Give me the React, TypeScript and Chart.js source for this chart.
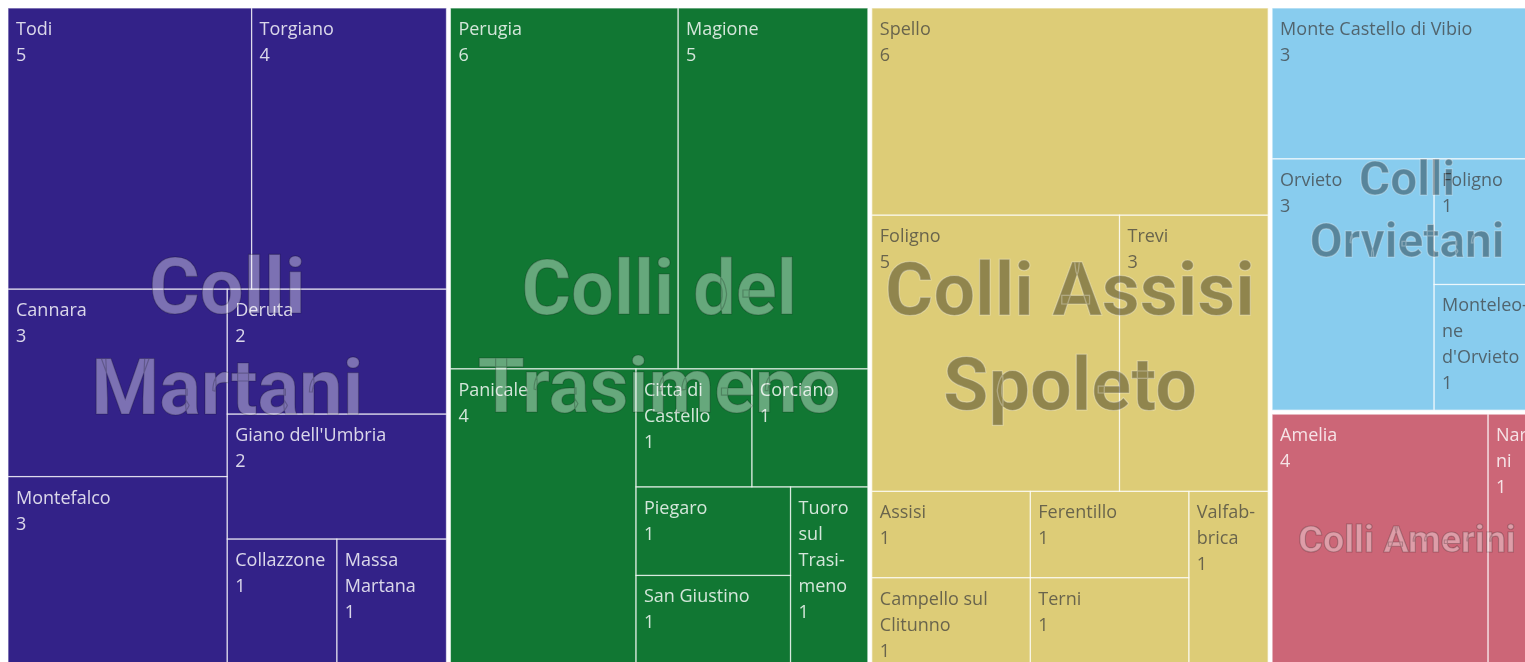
import React, { useEffect, useRef } from 'react';
import { Chart, registerables } from 'chart.js';

Chart.register(...registerables);

// ---- data ----
const groupNames = ['Colli Martani', 'Colli del Trasimeno', 'Colli Assisi Spoleto', 'Colli Orvietani', 'Colli Amerini'];

const martaniTowns = ['Todi', 'Torgiano', 'Cannara', 'Montefalco', 'Deruta', "Giano dell'Umbria", 'Collazzone', 'Massa Martana'];
const martaniValues = [5, 4, 3, 3, 2, 2, 1, 1];

const trasimenoTowns = ['Perugia', 'Magione', 'Panicale', 'Citta di Castello', 'Corciano', 'Piegaro', 'San Giustino', 'Tuoro sul Trasimeno'];
const trasimenoValues = [6, 5, 4, 1, 1, 1, 1, 1];

const assisiTowns = ['Spello', 'Foligno', 'Trevi', 'Assisi', 'Campello sul Clitunno', 'Ferentillo', 'Terni', 'Valfabbrica'];
const assisiValues = [6, 5, 3, 1, 1, 1, 1, 1];

const orvietaniTowns = ['Monte Castello di Vibio', 'Orvieto', 'Foligno', "Monteleone d'Orvieto"];
const orvietaniValues = [3, 3, 1, 1];

const ameriniTowns = ['Amelia', 'Narni'];
const ameriniValues = [4, 1];

const groupTowns = [martaniTowns, trasimenoTowns, assisiTowns, orvietaniTowns, ameriniTowns];
const groupValues = [martaniValues, trasimenoValues, assisiValues, orvietaniValues, ameriniValues];

// ---- styles ----
const groupColors = ['#332288', '#117733', '#DDCC77', '#88CCEE', '#CC6677'];
const groupDark = [true, true, false, false, true];

type Rect = { x: number; y: number; w: number; h: number };

const sum = (a: number[]) => a.reduce((s, v) => s + v, 0);

function worst(row: number[], side: number) {
  const s = sum(row);
  const mx = Math.max(...row);
  const mn = Math.min(...row);
  return Math.max((side * side * mx) / (s * s), (s * s) / (side * side * mn));
}

function squarify(values: number[], rect: Rect): Rect[] {
  const idx = values.map((_, i) => i).sort((a, b) => values[b] - values[a] || a - b);
  const total = sum(values);
  const scale = (rect.w * rect.h) / total;
  const areas = idx.map((i) => values[i] * scale);
  const out: Rect[] = new Array(values.length);
  let r = { ...rect };
  let i = 0;
  while (i < areas.length) {
    const side = Math.min(r.w, r.h);
    let row = [areas[i]];
    let best = worst(row, side);
    let j = i + 1;
    while (j < areas.length) {
      const cand = [...row, areas[j]];
      const w2 = worst(cand, side);
      if (w2 <= best) {
        row = cand;
        best = w2;
        j++;
      } else break;
    }
    const rs = sum(row);
    if (r.w >= r.h) {
      const cw = rs / r.h;
      let yy = r.y;
      row.forEach((a, k) => {
        const hh = a / cw;
        out[idx[i + k]] = { x: r.x, y: yy, w: cw, h: hh };
        yy += hh;
      });
      r = { x: r.x + cw, y: r.y, w: r.w - cw, h: r.h };
    } else {
      const rh = rs / r.w;
      let xx = r.x;
      row.forEach((a, k) => {
        const ww = a / rh;
        out[idx[i + k]] = { x: xx, y: r.y, w: ww, h: rh };
        xx += ww;
      });
      r = { x: r.x, y: r.y + rh, w: r.w, h: r.h - rh };
    }
    i = j;
  }
  return out;
}

function wrap(ctx: CanvasRenderingContext2D, text: string, maxW: number, breakWords: boolean): string[] {
  const words = text.split(' ');
  const lines: string[] = [];
  let cur = '';
  for (const w of words) {
    const test = cur ? cur + ' ' + w : w;
    if (ctx.measureText(test).width <= maxW) {
      cur = test;
      continue;
    }
    if (cur) {
      lines.push(cur);
      cur = '';
    }
    if (!breakWords || ctx.measureText(w).width <= maxW) {
      cur = w;
      continue;
    }
    let rest = w;
    while (ctx.measureText(rest).width > maxW && rest.length > 1) {
      let k = rest.length - 1;
      while (k > 1 && ctx.measureText(rest.slice(0, k) + '-').width > maxW) k--;
      lines.push(rest.slice(0, k) + '-');
      rest = rest.slice(k);
    }
    cur = rest;
  }
  if (cur) lines.push(cur);
  return lines;
}

const GAP = 2;
const LEAF_FONT = "18px 'Open Sans'";
const LEAF_PAD = 8;
const LEAF_LINE = 26;
const LEAF_FIRST_BASELINE = 27;

const treemapPlugin = {
  id: 'treemapCells',
  afterDatasetsDraw(chart: any) {
    const { ctx, chartArea: ca, scales } = chart;
    const xs = scales.x;
    const ys = scales.y;
    const aspect = ca.width / ca.height;
    const totals = groupValues.map(sum);
    const groupRects = squarify(totals, { x: 0, y: 0, w: aspect, h: 1 });

    const pixelGroups: Rect[] = groupRects.map((gr) => {
      const x0 = xs.getPixelForValue(gr.x / aspect);
      const x1 = xs.getPixelForValue((gr.x + gr.w) / aspect);
      const y0 = ys.getPixelForValue(gr.y);
      const y1 = ys.getPixelForValue(gr.y + gr.h);
      return { x: x0 + GAP, y: y0 + GAP, w: x1 - x0 - 2 * GAP, h: y1 - y0 - 2 * GAP };
    });

    ctx.save();
    pixelGroups.forEach((pg, g) => {
      ctx.fillStyle = groupColors[g];
      ctx.fillRect(pg.x, pg.y, pg.w, pg.h);
      const leaves = squarify(groupValues[g], pg);
      leaves.forEach((lr, k) => {
        ctx.save();
        ctx.strokeStyle = 'rgba(255,255,255,0.6)';
        ctx.lineWidth = 1.2;
        ctx.strokeRect(lr.x, lr.y, lr.w, lr.h);
        ctx.beginPath();
        ctx.rect(lr.x, lr.y, lr.w, lr.h);
        ctx.clip();
        ctx.font = LEAF_FONT;
        ctx.textAlign = 'left';
        ctx.textBaseline = 'alphabetic';
        ctx.fillStyle = groupDark[g] ? 'rgba(255,255,255,0.82)' : 'rgba(60,60,60,0.72)';
        const lines = wrap(ctx, groupTowns[g][k], lr.w - 2 * LEAF_PAD, true);
        lines.push(String(groupValues[g][k]));
        lines.forEach((ln, li) => {
          ctx.fillText(ln, lr.x + LEAF_PAD, lr.y + LEAF_FIRST_BASELINE + li * LEAF_LINE);
        });
        ctx.restore();
      });
    });

    // group labels
    pixelGroups.forEach((pg, g) => {
      const fs = 0.145 * Math.sqrt(pg.w * pg.h);
      ctx.save();
      ctx.font = `bold ${fs}px Roboto`;
      ctx.textAlign = 'center';
      ctx.textBaseline = 'alphabetic';
      const lines = wrap(ctx, groupNames[g], pg.w - 10, false);
      const lh = fs * 1.29;
      const cap = fs * 0.711;
      const cx = pg.x + pg.w / 2;
      const cy = pg.y + pg.h / 2;
      ctx.fillStyle = groupDark[g] ? 'rgba(255,255,255,0.36)' : 'rgba(0,0,0,0.35)';
      ctx.strokeStyle = groupDark[g] ? 'rgba(0,0,0,0.22)' : 'rgba(255,255,255,0.3)';
      ctx.lineWidth = 1.2;
      lines.forEach((ln, li) => {
        const by = cy - ((lines.length - 1) / 2) * lh + li * lh + cap / 2;
        ctx.fillText(ln, cx, by);
        ctx.strokeText(ln, cx, by);
      });
      ctx.restore();
    });
    ctx.restore();
  },
};

export default function App() {
  const canvasRef = useRef<HTMLCanvasElement | null>(null);

  useEffect(() => {
    const canvas = canvasRef.current;
    if (!canvas) return;
    const chart = new Chart(canvas, {
      type: 'scatter',
      data: { datasets: [{ data: [] }] },
      options: {
        animation: false,
        responsive: false,
        maintainAspectRatio: false,
        layout: { padding: 0 },
        plugins: { legend: { display: false }, tooltip: { enabled: false } },
        scales: {
          x: { type: 'linear', min: 0, max: 1, display: false },
          y: { type: 'linear', min: 0, max: 1, reverse: true, display: false },
        },
      },
      plugins: [treemapPlugin],
    } as any);
    return () => chart.destroy();
  }, []);

  return (
    <div
      style={{
        position: 'fixed',
        left: 8,
        top: 8,
        width: 1517,
        height: 654,
        overflow: 'hidden',
        background: '#ffffff',
      }}
    >
      <canvas
        ref={canvasRef}
        width={1538}
        height={660}
        style={{ position: 'absolute', left: -2, top: -2, width: 1538, height: 660 }}
      />
    </div>
  );
}
